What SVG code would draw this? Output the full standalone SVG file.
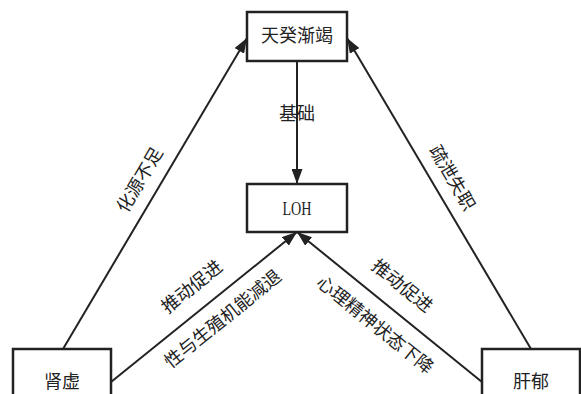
<svg xmlns="http://www.w3.org/2000/svg" width="581" height="394" viewBox="0 0 581 394">
<style>
.box{fill:#fff;stroke:#222;stroke-width:2.5}
.t{font-family:"Liberation Serif","Noto Sans CJK SC",serif;font-size:18px;fill:#222;text-anchor:middle;dominant-baseline:central}
.e{stroke:#222;stroke-width:2;fill:none;marker-end:url(#ah)}
</style>
<defs>
<marker id="ah" viewBox="0 0 15 11" refX="15" refY="5.5" markerWidth="15" markerHeight="11" markerUnits="userSpaceOnUse" orient="auto">
<path d="M0,0 L15,5.5 L0,11 Z" fill="#222"/>
</marker>
</defs>
<rect width="581" height="394" fill="#fff"/>
<g id="connectors">
<line class="e" x1="63" y1="349" x2="247" y2="38"/>
<line class="e" x1="531" y1="349" x2="347" y2="38"/>
<line class="e" x1="297" y1="61" x2="297" y2="184"/>
<line class="e" x1="111" y1="382" x2="297" y2="232"/>
<line class="e" x1="482" y1="382" x2="297" y2="232"/>
<text class="t" x="297" y="114">基础</text>
<text class="t" transform="rotate(-59.4 140 180)" x="140" y="180">化源不足</text>
<text class="t" transform="rotate(59.4 452 178)" x="452" y="178">疏泄失职</text>
<text class="t" transform="rotate(-38.9 192 287)" x="192" y="287">推动促进</text>
<text class="t" transform="rotate(-38.9 223 319)" x="223" y="319">性与生殖机能减退</text>
<text class="t" transform="rotate(38.9 402 286)" x="402" y="286">推动促进</text>
<text class="t" transform="rotate(38.9 375 325)" x="375" y="325">心理精神状态下降</text>
</g>
<g id="node-tiangui">
<rect class="box" x="247" y="12" width="100" height="49"/>
<text class="t" x="297" y="36">天癸渐竭</text>
</g>
<g id="node-loh">
<rect class="box" x="247" y="184" width="100" height="48"/>
<text class="t" x="297" y="209" textLength="29" lengthAdjust="spacingAndGlyphs">LOH</text>
</g>
<g id="node-shenxu">
<rect class="box" x="13" y="349" width="98" height="66"/>
<text class="t" x="62" y="382">肾虚</text>
</g>
<g id="node-ganyu">
<rect class="box" x="482" y="349" width="98" height="66"/>
<text class="t" x="531" y="382">肝郁</text>
</g>
</svg>
